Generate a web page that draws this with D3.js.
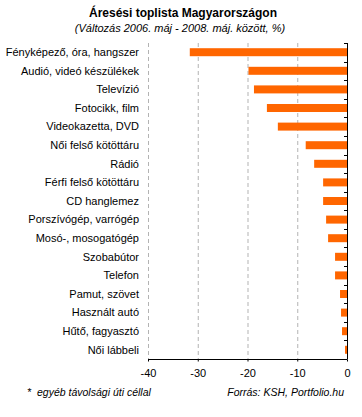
<!DOCTYPE html>
<html>
<head>
<meta charset="utf-8">
<script src="https://cdn.jsdelivr.net/npm/d3@7"></script>
<style>
  body { margin: 0; background: #fff; }
  svg { font-family: Arial, "Liberation Sans", sans-serif; }
</style>
</head>
<body>
<script>
const categories = [
  "Fényképező, óra, hangszer",
  "Audió, videó készülékek",
  "Televízió",
  "Fotocikk, film",
  "Videokazetta, DVD",
  "Női felső kötöttáru",
  "Rádió",
  "Férfi felső kötöttáru",
  "CD hanglemez",
  "Porszívógép, varrógép",
  "Mosó-, mosogatógép",
  "Szobabútor",
  "Telefon",
  "Pamut, szövet",
  "Használt autó",
  "Hűtő, fagyasztó",
  "Női lábbeli"
];
const values = [-31.6, -19.8, -18.7, -16.1, -13.9, -8.3, -6.6, -4.8, -4.8, -4.2, -3.8, -2.4, -2.4, -1.4, -1.2, -1.0, -0.4];
const xTicks = [-40, -30, -20, -10, 0];

const width = 362, height = 417;
const margin = { top: 43, right: 15, bottom: 58, left: 148 };

const svg = d3.select("body").append("svg")
  .attr("width", width)
  .attr("height", height);

const x = d3.scaleLinear()
  .domain([-40, 0])
  .range([margin.left, width - margin.right]);

const y = d3.scaleBand()
  .domain(categories)
  .range([margin.top, height - margin.bottom])
  .paddingInner(0.57)
  .paddingOuter(0.28);

// title
svg.append("text")
  .attr("x", 183).attr("y", 17)
  .attr("text-anchor", "middle")
  .attr("font-weight", "bold")
  .attr("font-size", 12)
  .text("Áresési toplista Magyarországon");
svg.append("text")
  .attr("x", 180).attr("y", 32)
  .attr("text-anchor", "middle")
  .attr("font-style", "italic")
  .attr("font-size", 11)
  .text("(Változás 2006. máj - 2008. máj. között, %)");

// grid lines
svg.append("g")
  .selectAll("line")
  .data(xTicks.filter(d => d !== 0))
  .join("line")
  .attr("x1", d => x(d) + 0.5).attr("x2", d => x(d) + 0.5)
  .attr("y1", margin.top).attr("y2", height - margin.bottom)
  .attr("stroke", "#b3b3b3")
  .attr("stroke-dasharray", "4,3");

// bars
svg.append("g")
  .selectAll("rect")
  .data(categories)
  .join("rect")
  .attr("x", (d, i) => x(values[i]))
  .attr("y", d => y(d))
  .attr("width", (d, i) => x(0) - x(values[i]))
  .attr("height", y.bandwidth())
  .attr("fill", "#ff6600");

// category labels
svg.append("g")
  .selectAll("text")
  .data(categories)
  .join("text")
  .attr("x", 139)
  .attr("y", d => y(d) + y.bandwidth() / 2)
  .attr("dy", "0.35em")
  .attr("text-anchor", "end")
  .attr("font-size", 11)
  .text(d => d);

// right (zero) axis, ticks at band boundaries
const step = (height - margin.bottom - margin.top) / categories.length;
svg.append("line")
  .attr("x1", x(0) + 0.5).attr("x2", x(0) + 0.5)
  .attr("y1", margin.top).attr("y2", height - margin.bottom)
  .attr("stroke", "#000");
svg.append("g")
  .selectAll("line")
  .data(d3.range(categories.length))
  .join("line")
  .attr("x1", x(0) - 3).attr("x2", x(0))
  .attr("y1", i => Math.round(margin.top + i * step) + 0.5)
  .attr("y2", i => Math.round(margin.top + i * step) + 0.5)
  .attr("stroke", "#000");

// bottom axis
const xAxis = svg.append("g")
  .attr("transform", `translate(0,${height - margin.bottom + 0.5})`)
  .call(d3.axisBottom(x).tickValues(xTicks).tickSize(2).tickPadding(8)
    .tickFormat(d => String(d)));
xAxis.select(".domain").attr("d", `M${x(-40)},0H${x(0) + 0.5}`);
xAxis.selectAll("text").attr("font-size", 11).attr("font-family", "Arial, sans-serif");

// footer
svg.append("text")
  .attr("x", 27).attr("y", 396)
  .attr("font-style", "italic")
  .attr("font-size", 10.5)
  .text("*");
svg.append("text")
  .attr("x", 37).attr("y", 396)
  .attr("font-style", "italic")
  .attr("font-size", 10.5)
  .text("egyéb távolsági úti céllal");
svg.append("text")
  .attr("x", 344).attr("y", 396)
  .attr("text-anchor", "end")
  .attr("font-style", "italic")
  .attr("font-size", 10.5)
  .text("Forrás: KSH, Portfolio.hu");
</script>
</body>
</html>
